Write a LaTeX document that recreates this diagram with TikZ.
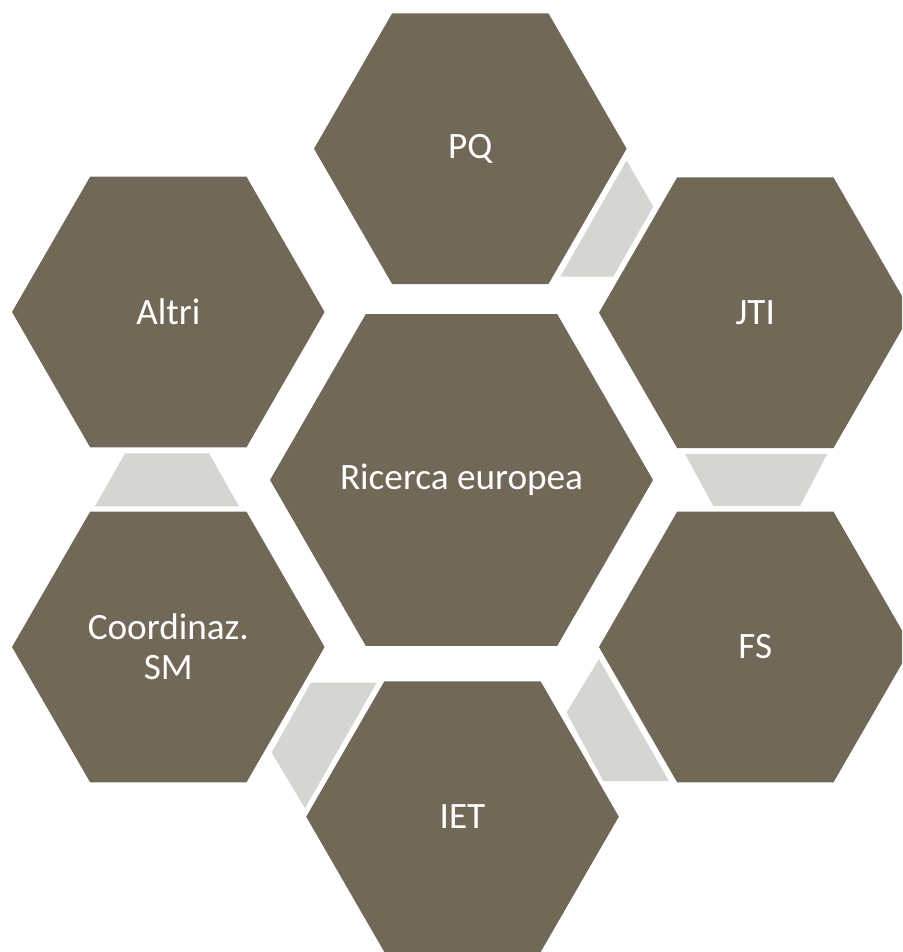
\documentclass[tikz,border=0pt]{standalone}
\usepackage{fontspec}
\setmainfont{Carlito}
\usetikzlibrary{shapes.geometric}
\definecolor{hexbrown}{RGB}{113,104,88}
\definecolor{linkgray}{RGB}{214,213,209}

\begin{document}
\begin{tikzpicture}[
    x=0.5pt,
    y=-0.5pt,
    every node/.style={
      regular polygon,
      regular polygon sides=6,
      fill=hexbrown,
      text=white,
      inner sep=0pt,
      align=center,
      font=\fontsize{18.6}{20}\selectfont,
      minimum size=156.3pt
    },
    link/.style={fill=linkgray}
  ]
    \useasboundingbox (0, 0) rectangle (902, 952);
    \clip (0, 0) rectangle (902, 952);

    \node[minimum size=191.5pt] (ricerca) at (461.5, 480) {\makebox[0pt]{Ricerca europea}};
    \node (pq) at (470.3, 148.7) {PQ};
    \node (jti) at (755.3, 312.7) {JTI};
    \node (fs) at (755.3, 647) {FS};
    \node (iet) at (462.5, 816.7) {IET};
    \node (coord) at (168.3, 647) {Coordinaz.\\SM};
    \node (altri) at (168.3, 312) {Altri};

    \fill[link] (626.5, 160.5) -- (653.3, 206.5) -- (613.3, 276.7) -- (560.3, 276.7) -- cycle;
    \fill[link] (685, 454) -- (827.3, 454) -- (800, 506) -- (713.3, 506) -- cycle;
    \fill[link] (599, 659) -- (566.5, 712.5) -- (603.3, 781) -- (669, 781) -- cycle;
    \fill[link] (310.7, 682.7) -- (376.7, 682.7) -- (305, 808.3) -- (271.7, 752.7) -- cycle;
    \fill[link] (125, 453.3) -- (209, 453.3) -- (239, 506.3) -- (95, 506.3) -- cycle;

  \end{tikzpicture}
\end{document}
